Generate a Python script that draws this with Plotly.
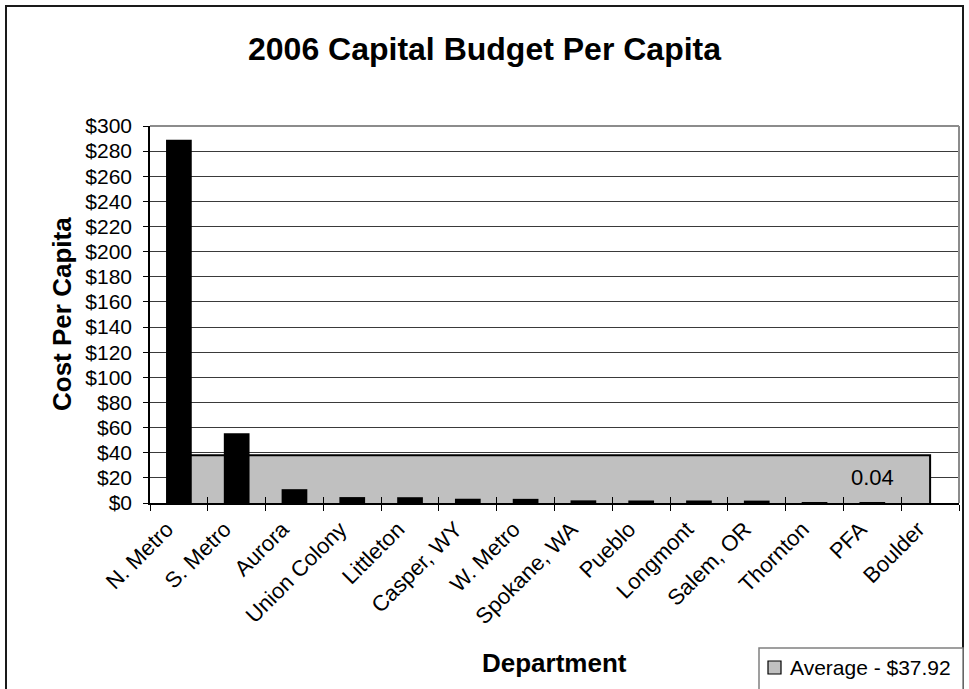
import plotly.graph_objects as go

# Capital budget per capita by department, 2006
departments = ["N. Metro", "S. Metro", "Aurora", "Union Colony", "Littleton",
               "Casper, WY", "W. Metro", "Spokane, WA", "Pueblo", "Longmont",
               "Salem, OR", "Thornton", "PFA", "Boulder"]
cost_per_capita = [289.0, 55.5, 11.0, 4.7, 4.6, 3.4, 3.3, 2.1, 2.0, 2.0,
                   1.9, 0.03, 0.04, 0.0]
average_cost = 37.92
y_ticks = list(range(0, 301, 20))
y_tick_labels = [f"${v}" for v in y_ticks]

FONT = "Liberation Sans, Arial, sans-serif"

# plot-area pixel geometry (figure is 969 x 689)
W, H = 969, 689
L, R, T, B = 150, 10, 126, 186
pw, ph = W - L - R, H - T - B


def px(x):
    return (x - L) / pw


def py(y):
    return (H - B - y) / ph


fig = go.Figure()

# average as a filled area spanning first to last category (behind bars)
fig.add_trace(go.Scatter(
    x=departments + [departments[-1]],
    y=[average_cost] * len(departments) + [0],
    mode="lines",
    fill="tozeroy",
    fillcolor="#C0C0C0",
    line=dict(color="black", width=2),
    hoverinfo="skip",
    showlegend=False,
))

# department bars on an overlaid axis pair so they sit above the area
fig.add_trace(go.Bar(
    x=departments,
    y=cost_per_capita,
    width=0.445,
    marker=dict(color="black", line=dict(width=0)),
    xaxis="x2",
    yaxis="y2",
    showlegend=False,
))

fig.update_layout(
    width=W, height=H,
    margin=dict(l=L, r=R, t=T, b=B),
    paper_bgcolor="white",
    plot_bgcolor="white",
    font=dict(family=FONT, color="black", size=21),
    title=dict(
        text="<b>2006 Capital Budget Per Capita</b>",
        x=0.5, xref="container", xanchor="center",
        y=1 - 49 / H, yref="container", yanchor="middle",
        font=dict(family=FONT, size=32, color="black"),
    ),
    xaxis=dict(
        type="category",
        categoryorder="array", categoryarray=departments,
        range=[-0.5, len(departments) - 0.5],
        showgrid=False, zeroline=False,
        showline=True, linecolor="black", linewidth=1.5,
        ticks="outside", ticklen=6, tickcolor="black", tickwidth=1.2,
        tickson="boundaries",
        tickangle=-45,
        ticklabelshift=-12,
        ticklabelstandoff=3,
        tickfont=dict(family=FONT, size=22, color="black"),
    ),
    xaxis2=dict(
        type="category",
        categoryorder="array", categoryarray=departments,
        overlaying="x", matches="x",
        showgrid=False, zeroline=False,
        showline=True, linecolor="black", linewidth=1.5,
        layer="above traces",
        showticklabels=False,
        ticks="inside", ticklen=6, tickcolor="black", tickwidth=1.2,
        tickson="boundaries",
    ),
    yaxis=dict(
        range=[0, 300],
        tickmode="array",
        tickvals=y_ticks,
        ticktext=y_tick_labels,
        showgrid=True, gridcolor="#3a3a3a", gridwidth=1,
        zeroline=False,
        showline=True, linecolor="black", linewidth=1.5,
        ticks="outside", ticklen=5, tickcolor="black",
        ticklabelstandoff=7,
        tickfont=dict(family=FONT, size=21, color="black"),
    ),
    yaxis2=dict(
        overlaying="y", matches="y", visible=False,
    ),
    bargap=0.555,
)

shapes = [
    # plot-area top and right edges
    dict(type="line", xref="paper", yref="paper", x0=0, x1=1, y0=1, y1=1,
         line=dict(color="#8c8c8c", width=2)),
    dict(type="line", xref="paper", yref="paper", x0=1, x1=1, y0=0, y1=1,
         line=dict(color="#8c8c8c", width=2)),
    # chart frame
    dict(type="rect", xref="paper", yref="paper",
         x0=px(6), x1=px(963), y0=py(720), y1=py(6),
         line=dict(color="#1a1a1a", width=2), fillcolor="rgba(0,0,0,0)"),
    # legend box and swatch
    dict(type="rect", xref="paper", yref="paper",
         x0=px(759), x1=px(963), y0=py(720), y1=py(648),
         line=dict(color="#808080", width=1.5), fillcolor="white"),
    dict(type="rect", xref="paper", yref="paper",
         x0=px(768), x1=px(781), y0=py(674), y1=py(661),
         line=dict(color="black", width=1.2), fillcolor="#C0C0C0"),
]
fig.update_layout(shapes=shapes)

annotations = [
    dict(text="<b>Cost Per Capita</b>", xref="paper", yref="paper",
         x=px(62), y=py(314), textangle=-90, showarrow=False,
         xanchor="center", yanchor="middle",
         font=dict(family=FONT, size=26, color="black")),
    dict(text="<b>Department</b>", xref="paper", yref="paper",
         x=0.5, y=py(663), showarrow=False,
         xanchor="center", yanchor="middle",
         font=dict(family=FONT, size=26, color="black")),
    dict(text=f"Average - ${average_cost:.2f}", xref="paper", yref="paper",
         x=px(788), y=py(667), showarrow=False,
         xanchor="left", yanchor="middle",
         font=dict(family=FONT, size=21, color="black")),
    dict(text=f"{cost_per_capita[departments.index('PFA')]:g}",
         xref="x", yref="y", x="PFA", y=20.5, showarrow=False,
         xanchor="center", yanchor="middle",
         font=dict(family=FONT, size=22, color="black")),
]
fig.update_layout(annotations=annotations)

fig.write_html("out.html")
